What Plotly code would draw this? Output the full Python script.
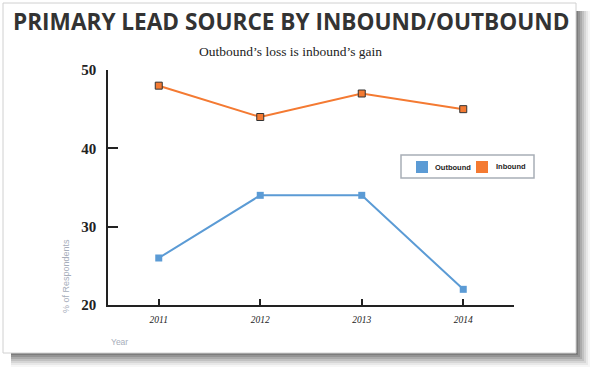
import plotly.graph_objects as go

years = ["2011", "2012", "2013", "2014"]
outbound = [26, 34, 34, 22]
inbound = [48, 44, 47, 45]
y_ticks = [20, 30, 40, 50]
series_names = ["Outbound", "Inbound"]

W, H = 594, 372
L, R, T, B = 108, 514, 70, 305  # plot area in page px
CX0, CX1, CY0, CY1 = 3, 576, 3, 353  # card


def px(x):
    return (x - L) / (R - L)


def py(y):
    return (B - y) / (B - T)


BLUE = "#5B9BD5"
ORANGE = "#F47A32"

fig = go.Figure()
fig.add_trace(go.Scatter(x=years, y=outbound, mode="lines+markers", name=series_names[0],
                         line=dict(color=BLUE, width=2),
                         marker=dict(symbol="square", size=7, color=BLUE), showlegend=False))
fig.add_trace(go.Scatter(x=years, y=inbound, mode="lines+markers", name=series_names[1],
                         line=dict(color=ORANGE, width=2),
                         marker=dict(symbol="square", size=7, color=ORANGE,
                                     line=dict(color="#333333", width=1)), showlegend=False))

shapes = []
# card shadow: strips on right and bottom
for i in range(7):
    off = 14 - 2 * i
    op = 0.035 + 0.02 * i
    shapes.append(dict(type="rect", xref="paper", yref="paper", layer="below",
                       x0=px(CX1), x1=px(CX1 + off), y0=py(CY1 + off), y1=py(CY0 + 8),
                       line=dict(width=0), fillcolor=f"rgba(0,0,0,{op})"))
    shapes.append(dict(type="rect", xref="paper", yref="paper", layer="below",
                       x0=px(CX0 + 8), x1=px(CX1), y0=py(CY1 + off), y1=py(CY1),
                       line=dict(width=0), fillcolor=f"rgba(0,0,0,{op})"))
shapes.append(dict(type="rect", xref="paper", yref="paper", layer="below",
                   x0=px(CX0), x1=px(CX1), y0=py(CY1), y1=py(CY0),
                   line=dict(width=1, color="#d0d0d0"), fillcolor="white"))
# legend box
shapes.append(dict(type="rect", xref="paper", yref="paper",
                   x0=px(401), x1=px(534), y0=py(178), y1=py(155),
                   line=dict(width=1.5, color="#a8aeb6"), fillcolor="white"))
for (sx, col) in [(416, BLUE), (476, ORANGE)]:
    shapes.append(dict(type="rect", xref="paper", yref="paper",
                       x0=px(sx), x1=px(sx + 12), y0=py(173), y1=py(161),
                       line=dict(width=0), fillcolor=col))

annotations = [
    dict(text="<b>PRIMARY LEAD SOURCE BY INBOUND/OUTBOUND</b>", x=px(291), y=py(22),
         xref="paper", yref="paper", showarrow=False, xanchor="center", yanchor="middle",
         font=dict(family="Open Sans", size=22.6, color="#333333")),
    dict(text="Outbound’s loss is inbound’s gain", x=px(290), y=py(51),
         xref="paper", yref="paper", showarrow=False, xanchor="center", yanchor="middle",
         font=dict(family="Liberation Serif", size=13.5, color="#222222")),
    dict(text="% of Respondents", x=px(66), y=py(276), textangle=-90,
         xref="paper", yref="paper", showarrow=False, xanchor="center", yanchor="middle",
         font=dict(family="Liberation Sans", size=9, color="#a6adba")),
    dict(text="Year", x=px(119), y=py(342),
         xref="paper", yref="paper", showarrow=False, xanchor="center", yanchor="middle",
         font=dict(family="Liberation Sans", size=8.5, color="#a6adba")),
    dict(text=series_names[0], x=px(433), y=py(167),
         xref="paper", yref="paper", showarrow=False, xanchor="left", yanchor="middle",
         font=dict(family="Liberation Sans", size=7.5, color="#222222", weight="bold")),
    dict(text=series_names[1], x=px(494), y=py(166),
         xref="paper", yref="paper", showarrow=False, xanchor="left", yanchor="middle",
         font=dict(family="Liberation Sans", size=7.5, color="#222222", weight="bold")),
]

fig.update_layout(
    width=W, height=H,
    margin=dict(l=L, r=W - R, t=T, b=H - B),
    paper_bgcolor="white", plot_bgcolor="rgba(0,0,0,0)",
    shapes=shapes, annotations=annotations, showlegend=False,
    xaxis=dict(type="category", range=[-0.5, 3.5], showgrid=False, showline=True,
               linecolor="#222222", linewidth=1.5, ticks="inside", ticklen=6,
               tickcolor="#222222", tickwidth=1.5, ticklabelstandoff=5,
               tickfont=dict(family="Liberation Serif", size=9.5, color="#222222",
                             style="italic")),
    yaxis=dict(range=[20, 50], tickvals=y_ticks, showgrid=False, zeroline=False,
               showline=True, linecolor="#222222", linewidth=1.5, ticks="inside",
               ticklen=10, tickcolor="#222222", tickwidth=1.5, ticklabelstandoff=7,
               tickfont=dict(family="Liberation Serif", size=15, color="#222222",
                             weight="bold")),
)

fig.write_html("out.html", config={"displayModeBar": False},
               post_script="document.body.style.margin='0px';"
                           "document.body.style.overflow='hidden';")
